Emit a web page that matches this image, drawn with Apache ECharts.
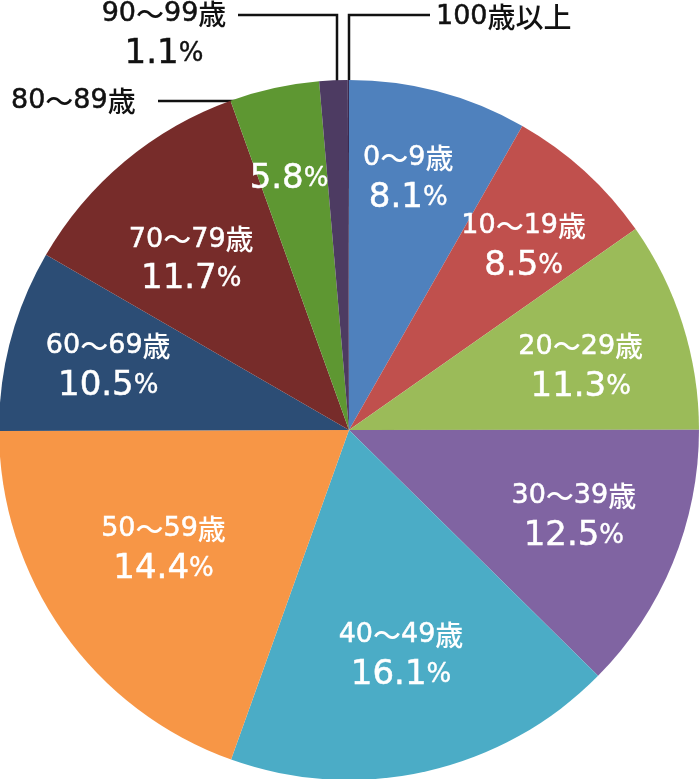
<!DOCTYPE html>
<html>
<head>
<meta charset="utf-8">
<script src="https://cdn.jsdelivr.net/npm/echarts@6/dist/echarts.min.js"></script>
<style>
  html, body { margin: 0; padding: 0; background: #fff; }
  #chart { width: 700px; height: 779px; }
</style>
</head>
<body>
<div id="chart"></div>
<script>
// 年齢階級
const ageGroups = ['0〜9歳', '10〜19歳', '20〜29歳', '30〜39歳', '40〜49歳',
  '50〜59歳', '60〜69歳', '70〜79歳', '80〜89歳', '90〜99歳', '100歳以上'];
// 図中に表示されている構成比(%)
const shareLabels = ['8.1', '8.5', '11.3', '12.5', '16.1', '14.4', '10.5', '11.7', '5.8', '1.1', ''];
// 図に描かれている扇形の角度(度) ※元の図は比率どおりではない
const sliceDeg = [29.7, 25.3, 35.0, 44.7, 65.1, 70.2, 30.2, 40.2, 14.9, 4.7, 0.2];
const colors = ['#4F81BD', '#C0504D', '#9BBB59', '#8064A2', '#4BACC6',
  '#F79646', '#2C4D75', '#772C2A', '#5E9732', '#4D3B62', '#3A2A50'];

const NUM_FONT = "'DejaVu Sans', 'Noto Sans CJK JP', sans-serif";
const JP_FONT = "'Noto Sans CJK JP', sans-serif";
const CX = 349, CY = 430, R = 350;

// ラベル位置の微調整（元の図は手で配置されている）
const labelNudge = {
  0: [-3, -15], 1: [11, -2], 2: [0, 12], 3: [0, -4], 4: [-2, -10],
  5: [13, -19], 6: [-6, 1], 7: [-2, 18], 8: [-8, -13]
};

// 数字とかなを別スタイルにする
function richName(name, pre) {
  return name.split(/(\d+)/).filter(s => s).map(s =>
    /^\d/.test(s) ? '{' + pre + 'd|' + s + '}' : '{' + pre + 'k|' + s + '}'
  ).join('');
}

function makeRich(pre, color) {
  const r = {};
  r[pre + 'd'] = { fontFamily: NUM_FONT, fontSize: 27, color: color, lineHeight: 36,
    textBorderColor: color, textBorderWidth: 0.5 };
  r[pre + 'k'] = { fontFamily: JP_FONT, fontSize: 28, fontWeight: 500, color: color, lineHeight: 36 };
  r[pre + 'n'] = { fontFamily: NUM_FONT, fontSize: 34, color: color, lineHeight: 44,
    textBorderColor: color, textBorderWidth: 0.5 };
  r[pre + 'p'] = { fontFamily: NUM_FONT, fontSize: 26, color: color, lineHeight: 44,
    textBorderColor: color, textBorderWidth: 0.4 };
  return r;
}

const chart = echarts.init(document.getElementById('chart'));

const outerData = ageGroups.map((name, i) => {
  const item = { name: name, value: sliceDeg[i], itemStyle: { color: colors[i] } };
  if (i < 8) {
    item.label = { show: false };
    item.labelLine = { show: false };
  }
  return item;
});

// 外側ラベル（80〜89歳, 90〜99歳, 100歳以上）と引き出し線
const outerLayouts = {
  8: { x: 11, y: 101, align: 'left', line: [[158, 101], [276, 101], [276, 140]] },
  9: { x: 164, y: 36, align: 'center', line: [[238, 15], [337, 15], [337, 92]] },
  10: { x: 436, y: 17, align: 'left', line: [[430, 15], [349, 15], [349, 80]] }
};

const option = {
  animation: false,
  series: [
    {
      // 本体の円グラフ
      type: 'pie',
      center: [CX, CY],
      radius: [0, R],
      startAngle: 90,
      clockwise: true,
      avoidLabelOverlap: false,
      silent: true,
      data: outerData,
      label: {
        show: true,
        position: 'outside',
        rich: makeRich('o', '#111'),
        formatter: function (p) {
          if (p.dataIndex === 9) return richName(p.name, 'o') + '\n{on|' + shareLabels[9] + '}{op|%}';
          return richName(p.name, 'o');
        }
      },
      labelLine: { show: true, lineStyle: { color: '#111', width: 2.5 } },
      labelLayout: function (params) {
        const l = outerLayouts[params.dataIndex];
        if (!l) return {};
        return { x: l.x, y: l.y, align: l.align, verticalAlign: 'middle', labelLinePoints: l.line };
      }
    },
    {
      // ラベル用の透明なリング
      type: 'pie',
      center: [CX, CY],
      radius: [130, R],
      startAngle: 90,
      clockwise: true,
      silent: true,
      data: ageGroups.map((name, i) => ({
        name: name,
        value: sliceDeg[i],
        itemStyle: { color: 'rgba(0,0,0,0)' },
        label: { show: i < 9 }
      })),
      label: {
        position: 'inside',
        rich: makeRich('i', '#fff'),
        formatter: function (p) {
          const i = p.dataIndex;
          if (i === 8) return '{in|' + shareLabels[i] + '}{ip|%}';
          return richName(p.name, 'i') + '\n{in|' + shareLabels[i] + '}{ip|%}';
        }
      },
      labelLine: { show: false },
      labelLayout: function (params) {
        const d = labelNudge[params.dataIndex];
        if (!d) return {};
        return { dx: d[0], dy: d[1] };
      }
    }
  ]
};

chart.setOption(option);
</script>
</body>
</html>
